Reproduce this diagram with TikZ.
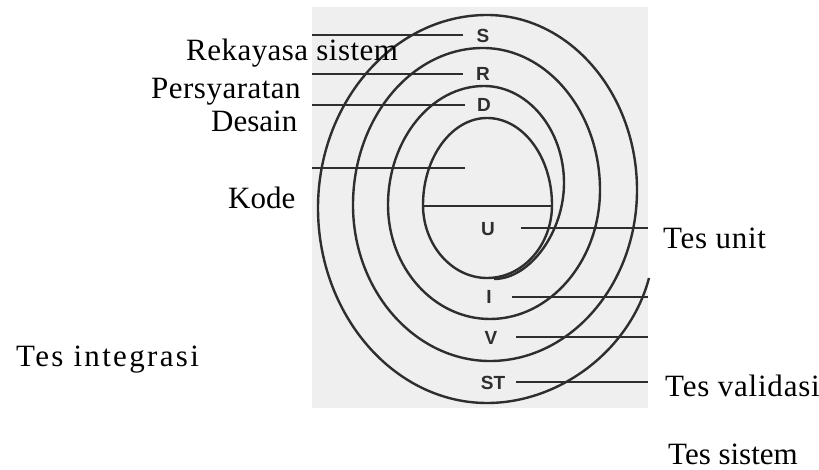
\documentclass[tikz,border=0pt]{standalone}
\usepackage{fontspec}
\setmainfont{Liberation Serif}
\newfontfamily\lblfont{Liberation Sans}
\definecolor{ink}{HTML}{2E2E2E}
\definecolor{scanbg}{HTML}{EFEFEF}
\tikzset{
  spiral/.style={draw=ink, line width=2.4pt},
  hline/.style={draw=ink, line width=2.2pt},
  ringlbl/.style={font=\lblfont\bfseries\fontsize{19}{22}\selectfont, text=ink, inner sep=0pt},
  caption/.style={font=\fontsize{31}{36}\selectfont, text=black, inner sep=0pt, anchor=base west}
}
\newcommand{\tracked}[2]{{\addfontfeature{LetterSpace=#1}#2}}
\begin{document}
\begin{tikzpicture}[x=1pt,y=-1pt]
\useasboundingbox (0,0) rectangle (819,470);
\fill[scanbg] (312,7) rectangle (648,408);

% spiral: outer three turns
\draw[spiral] (649,278) .. controls (630,350) and (560,403) .. (487,403)
 .. controls (394,403) and (318,315) .. (318,208)
 .. controls (318,102) and (394,15) .. (487,15)
 .. controls (570,15) and (637,94) .. (637,190)
 .. controls (637,284) and (571,361) .. (490,361)
 .. controls (415,361) and (353,291) .. (353,205)
 .. controls (353,119) and (411,48) .. (483,48)
 .. controls (547,48) and (600,112) .. (600,190)
 .. controls (600,261) and (550,319) .. (490,319)
 .. controls (434,319) and (388,268) .. (388,205)
 .. controls (388,140) and (431,86) .. (484,86)
 .. controls (528,86) and (564,130) .. (564,183)
 .. controls (564,232) and (530,279) .. (494,279);
% innermost loop
\draw[spiral] (487,278) .. controls (452,278) and (423,245) .. (423,205)
 .. controls (423,157) and (452,118) .. (487,118)
 .. controls (523,118) and (552,157) .. (552,205)
 .. controls (552,245) and (523,278) .. (487,278);

% ring labels
\node[ringlbl] (S) at (483,36) {S};
\node[ringlbl] (R) at (483,74) {R};
\node[ringlbl] (D) at (484,105) {D};
\node[ringlbl] (U) at (488,229) {U};
\node[ringlbl] (I) at (489,297) {I};
\node[ringlbl] (V) at (491,338) {V};
\node[ringlbl] (ST) at (493,383) {ST};

% line end points
\coordinate (sA) at (312,35);  \coordinate (sB) at (463,35);
\coordinate (rA) at (312,74);  \coordinate (rB) at (463,74);
\coordinate (dA) at (312,105); \coordinate (dB) at (465,105);
\coordinate (kA) at (312,168); \coordinate (kB) at (465,168);
\coordinate (cA) at (423,206); \coordinate (cB) at (552,206);
\coordinate (uA) at (521,228); \coordinate (uB) at (648,228);
\coordinate (iA) at (512,297); \coordinate (iB) at (648,297);
\coordinate (vA) at (516,337); \coordinate (vB) at (648,337);
\coordinate (tA) at (516,382); \coordinate (tB) at (648,382);

\draw[hline] (sA) -- (sB);
\draw[hline] (rA) -- (rB);
\draw[hline] (dA) -- (dB);
\draw[hline] (kA) -- (kB);
\draw[hline] (cA) -- (cB);
\draw[hline] (uA) -- (uB);
\draw[hline] (iA) -- (iB);
\draw[hline] (vA) -- (vB);
\draw[hline] (tA) -- (tB);

% captions
\node[caption] (t1) at (186,61) {\tracked{1.5}{Rekayasa sistem}};
\node[caption] (t2) at (151,99) {\tracked{1.6}{Persyaratan}};
\node[caption] (t3) at (211,132) {Desain};
\node[caption] (t4) at (228,209) {Kode};
\node[caption] (t5) at (663,249) {\tracked{2.3}{Tes unit}};
\node[caption] (t6) at (16,366) {\tracked{7.5}{Tes integrasi}};
\node[caption] (t7) at (665,396) {\tracked{2.5}{Tes validasi}};
\node[caption] (t8) at (668,464) {Tes sistem};
\end{tikzpicture}
\end{document}
